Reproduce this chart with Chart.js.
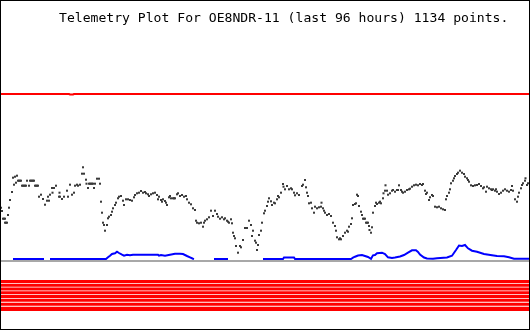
<!DOCTYPE html>
<html>
<head>
<meta charset="utf-8">
<script src="https://cdn.jsdelivr.net/npm/chart.js@4"></script>
<style>
    body { margin: 0; background: #fff; }
    #plot {
        position: relative;
        width: 530px;
        height: 330px;
        box-sizing: border-box;
        border: 1px solid #000;
    }
    #plot canvas { position: absolute; left: 0; top: 0; }
    #title {
        position: absolute;
        left: 58px;
        top: 9px;
        font-family: "DejaVu Sans Mono", "Liberation Mono", monospace;
        font-size: 13.1px;
        line-height: 15px;
        color: #000;
        white-space: pre;
    }
</style>
</head>
<body>
<div id="plot">
    <canvas id="telemetry" width="528" height="328"></canvas>
    <div id="title">Telemetry Plot For OE8NDR-11 (last 96 hours) 1134 points.</div>
</div>
<script>
// Sample column (time axis, oldest left) and value for each channel

// Analog channel 1 (dark dots)
const ch1X = [1, 2, 3, 4, 5, 5, 6, 7, 8, 9, 10, 12, 13, 14, 15, 16, 17, 18, 19, 20, 21, 22, 23, 24, 25, 26, 27, 29,
    30, 31, 32, 33, 34, 35, 36, 37, 38, 39, 41, 43, 45, 47, 48, 49, 50, 52, 52.5, 54, 56, 59, 59.5, 60, 62, 64, 67, 68,
    70, 72, 74, 75, 77, 78, 80, 82, 83, 84, 86, 86.5, 88, 89, 90, 91, 92, 93, 94, 95, 97, 99, 100,
    101, 102, 103, 104, 105, 107, 108, 109, 111, 112, 113, 115, 116, 118, 119, 121, 123, 124, 126, 128, 130,
    132, 134, 135, 137, 139, 141, 143, 145, 146, 148, 149, 151, 153, 155, 157, 158, 159, 161, 162, 163, 165,
    166, 167, 169, 170, 171, 173, 174, 175, 177, 178, 180, 182, 184, 186, 187, 189, 191, 193, 195, 196, 197,
    199, 201, 203, 204, 205, 207, 209, 211, 213, 215, 217, 218, 220, 222, 224, 225, 227, 228, 229, 231, 232,
    233, 234, 235, 236, 238, 240, 241, 243, 245, 246, 247, 249, 251, 252, 253, 255, 256, 257, 258, 259, 261,
    262, 264, 265, 267, 268, 269, 271, 272, 274, 275, 277, 278, 279, 281, 283, 283.5, 285, 287, 289, 291, 292,
    294, 295, 297, 299, 302, 303, 305, 306, 307, 308, 309, 311, 312, 314, 315, 317, 319, 321, 321.5, 323, 324,
    325, 327, 329, 331, 333, 335, 336, 337, 339, 340, 341, 343, 345, 347, 348, 349, 351, 352, 353, 355, 356,
    357, 358, 359, 361, 362, 363, 364, 365, 366, 367, 368, 369, 369.5, 371, 372, 373, 375, 376, 377, 379, 380,
    381, 383, 383.5, 385, 385.5, 387, 388, 390, 392, 393, 395, 397, 398, 399, 401, 402, 403, 405, 407, 409,
    410, 412, 414, 416, 418, 420, 422, 423, 425, 426, 427, 429, 430, 432, 433, 435, 437, 439, 441, 443, 445,
    446, 447, 449, 450, 451, 453, 454, 455, 457, 458, 460, 462, 464, 465, 467, 468, 469, 471, 473, 475, 477,
    479, 481, 483, 484, 486, 487, 489, 491, 492, 493, 495, 496, 497, 499, 501, 503, 505, 507, 509, 511, 512,
    513, 515, 517, 518, 519, 521, 522, 523, 525, 525.5, 527, 528];
const ch1Y = [122.3, 119, 111.3, 111.3, 111.3, 107.3, 107.3, 107.3, 115, 122.3, 130, 138, 152.3, 145.3, 153.3, 147.3, 154.3,
    149.3, 149.3, 149.3, 149.3, 144.3, 144.3, 144.3, 144.3, 144.3, 149.3, 144.3,
    149.3, 149.3, 149.3, 149.3, 149.3, 144.3, 144.3, 144.3, 144.3, 133.3, 135.3, 131, 125.3, 129.3, 133.3, 129.3,
    135.3, 142, 137.3, 142, 144.3, 133.3, 137.3, 133.3, 131, 133.3, 139.3, 133.3,
    145.3, 135.3, 137.3, 144.3, 145.3, 144.3, 145.3, 156.3, 162.7, 156.3, 150.3, 146.3, 142, 146.3, 146.3, 146.3,
    146.3, 146.3, 142, 146.3, 151.3, 151.3, 146.3,
    128.3, 117.3, 107.3, 105, 99.3, 105, 111.7, 113.3, 115, 118.3, 121.7, 125, 127.3, 131.7, 133.3, 134, 129.3,
    125, 130.7, 130.7, 130,
    129.3, 132.7, 135, 136.7, 137.3, 139, 137.3, 138, 136.7, 135.7, 134, 135.7, 136.7, 137.3, 135, 130.7, 133.3,
    130, 128.3, 130.7, 129,
    127.3, 125, 132.7, 134, 131.7, 131.7, 131.7, 131.7, 135.7, 136.7, 134, 135, 133.3, 134, 130.7, 127.3, 125.7,
    121.7, 120, 109.3, 107.3,
    106.7, 107.3, 103.3, 107.3, 109.3, 110.7, 112.7, 119.3, 114, 119.3, 116, 113.3, 111.3, 112.7, 110.7, 111.7,
    109.3, 108.3, 107.3, 110.7, 106.7,
    97.3, 94, 91.7, 84, 77.3, 84, 82.7, 90, 102, 102, 102, 109.3, 105, 94, 99.3, 89.3, 87.3, 80, 85, 95, 99.3,
    107.3, 116.7, 119.3, 124, 128.3, 131.7, 128.7, 125, 127.3, 126.7, 130.7, 134, 132.7, 137.3, 146, 143.3, 140.7,
    144, 140.7, 141.7, 140.7,
    137.3, 134.7, 136.7, 135, 144, 145.3, 150, 142.7, 137.3, 134, 126.7, 127.3, 121.7, 117.3, 123.3, 121.7, 122.7,
    123.3, 127.3, 121.7, 119.3,
    117.3, 115, 116, 114, 107.3, 104, 99.3, 92.7, 90.7, 91.7, 90.7, 94, 97.3, 99.3, 98.3, 103.3, 106, 111.7, 125,
    126, 126.7,
    135.3, 134, 124, 118.3, 115, 111.3, 111.3, 111.3, 107.3, 107.3, 107.3, 104, 100, 97.3, 102.7, 117.3, 124,
    127.3, 126, 127.3, 128.3,
    126.7, 131.7, 136.7, 139.3, 144.7, 139.3, 135.3, 136.7, 139.3, 140, 138.3, 140, 140, 144.7, 140, 138.3, 137.3,
    138.3, 140, 140.7,
    141.3, 143.3, 144.7, 145.3, 144.7, 146, 145, 146, 139.3, 136, 137.3, 130, 132.7, 135, 134, 123.3, 122.7, 123.3,
    121.7, 120.7, 120,
    130.7, 134, 137.3, 140.7, 146.7, 149.3, 151.7, 154, 156, 157.3, 159.3, 157.3, 156, 153.3, 151.7, 150, 148.3,
    144.7, 144, 144.7, 145,
    146, 144, 141.7, 142.7, 138.3, 143.3, 141.7, 140.7, 140, 140.7, 139.3, 140.7, 138.3, 136, 137.3, 139.3, 140.7,
    139.3, 138.3, 140, 144,
    139.3, 130.7, 128.3, 133.3, 137.3, 141.7, 145, 146.7, 149.3, 151.7, 145, 146.7];

// Analog channel 2 (blue line), null = no data
const ch2X = [13, 44, 46, 50, 106, 108, 110, 112, 115, 117, 119, 122, 124, 127, 130, 133, 158, 159, 161, 165, 170,
    175, 180, 183, 187, 190, 193, 194, 200, 214, 228, 240, 263, 283, 284, 294, 295, 351, 353, 355, 358, 362, 365,
    368, 371, 373, 375, 377, 382, 385, 388, 392, 395, 400, 404, 408, 412, 416, 418, 420, 424, 427, 433, 437, 447,
    452, 456, 459, 462, 465, 468, 472, 477, 484, 492, 497, 504, 509, 514, 529];
const ch2Y = [71, 71, null, 71, 71, 72.7, 74.3, 76, 76.7, 78.3, 77, 75.3, 74.3, 75.3, 74.7, 75.3, 75.3, 74.3, 75, 74.3,
    75.3, 76.3, 76.3, 76, 74, 72.7, 71.3, 71, null, 71, 71, null, 71, 71, 72.5, 72.5, 71, 71, 72.3, 73.3, 74.5, 75,
    74, 73, 71.2, 74.7, 75, 76.7, 77.3, 76, 72.7, 72, 72.5, 73.5, 75, 77.3, 79.7, 79.7, 78, 75.5, 72.5, 71.5, 71.3,
    71.7, 72.5, 74.3, 80, 84.5, 84, 85, 81.7, 79.3, 78.3, 76, 74.8, 74, 73.7, 72.7, 71.3, 71.3];

// Analog channel 3 (grey line)
const ch3X = [1, 529];
const ch3Y = [69, 69];

// Analog channel 4 (red line near the top)
const ch4X = [1, 69, 70, 73, 74, 529];
const ch4Y = [236, 236, 235.5, 235.5, 236, 236];

// Digital bits (red stripes at the bottom)
const bitX = [1, 529];
const bitLevels = [48.5, 44.7, 41, 37.2, 33.5, 29.7, 25.8, 21.7, 20.5];

const toPoints = (xs, ys) => xs.map((x, i) => ({ x: x, y: ys[i] }));

function lineSet(xs, ys, color, width) {
    return {
        type: 'line',
        data: toPoints(xs, ys),
        borderColor: color,
        borderWidth: width,
        pointRadius: 0,
        pointHoverRadius: 0,
        showLine: true,
        spanGaps: false,
        tension: 0
    };
}

const datasets = [
    {
        type: 'scatter',
        data: toPoints(ch1X, ch1Y),
        backgroundColor: '#3a3a3a',
        borderWidth: 0,
        pointStyle: 'rect',
        pointRadius: 1.45
    },
    lineSet(ch4X, ch4Y, '#ff0000', 2),
    lineSet(ch2X, ch2Y, '#0000ff', 2),
    lineSet(ch3X, ch3Y, '#a8a8a8', 2)
];

bitLevels.forEach(level => {
    datasets.push(lineSet(bitX, [level, level], '#ff0000', 3));
});

new Chart(document.getElementById('telemetry').getContext('2d'), {
    type: 'scatter',
    data: { datasets: datasets },
    options: {
        responsive: false,
        animation: false,
        layout: { padding: 0, autoPadding: false },
        plugins: {
            legend: { display: false },
            tooltip: { enabled: false }
        },
        scales: {
            x: { type: 'linear', display: false, min: 1, max: 529 },
            y: { type: 'linear', display: false, min: 1, max: 329 }
        }
    }
});
</script>
</body>
</html>
